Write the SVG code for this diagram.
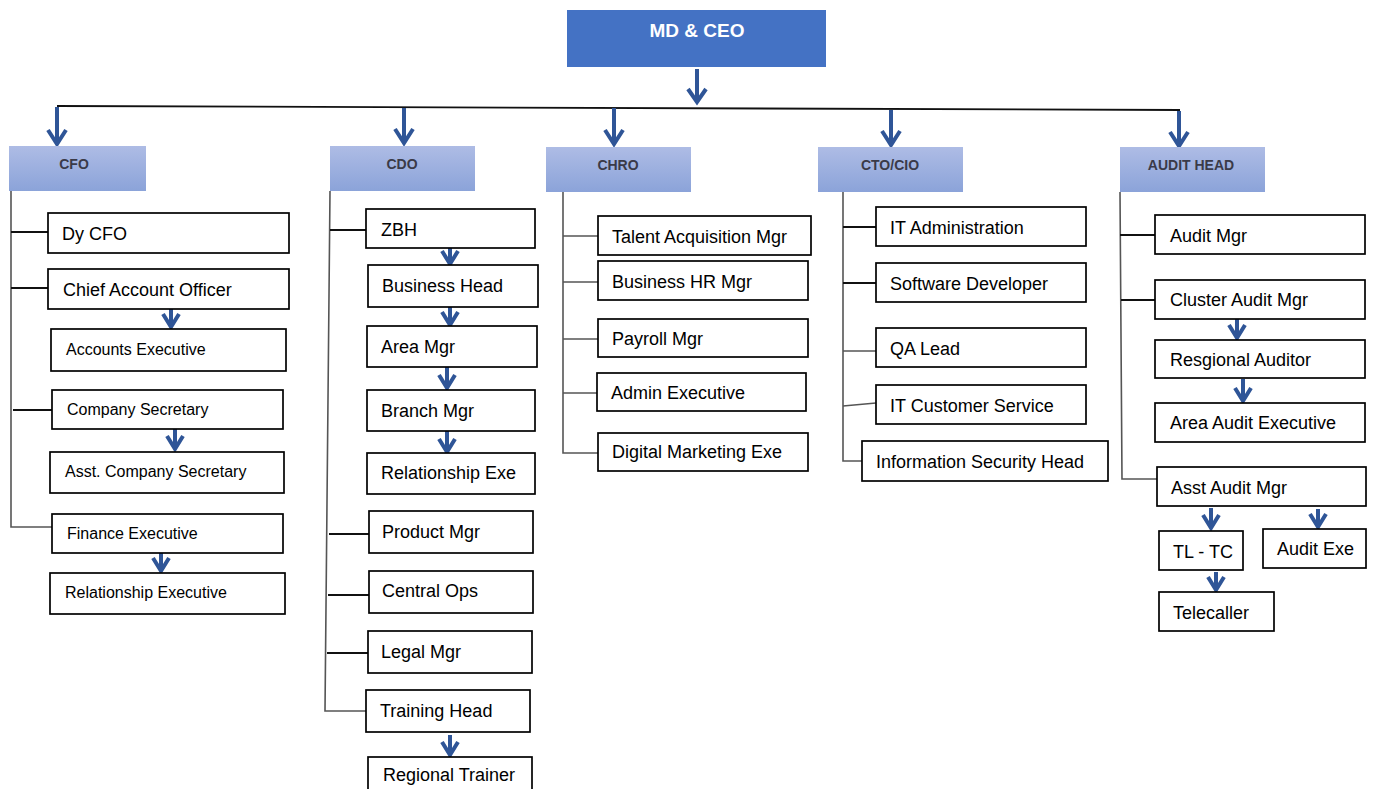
<svg xmlns="http://www.w3.org/2000/svg" width="1373" height="789" viewBox="0 0 1373 789">
<defs>
<linearGradient id="hg" x1="0" y1="0" x2="0" y2="1">
<stop offset="0" stop-color="#AEBCE5"/>
<stop offset="1" stop-color="#8BA3D9"/>
</linearGradient>
</defs>
<style>
.box{fill:#fff;stroke:#000;stroke-width:1.7}
.hdr{fill:url(#hg)}
.t{font-family:"Liberation Sans",Arial,sans-serif;font-size:18px;fill:#000}
.ts{font-family:"Liberation Sans",Arial,sans-serif;font-size:16px;fill:#000}
.ht{font-family:"Liberation Sans",Arial,sans-serif;font-size:14px;font-weight:bold;fill:#3a3a48;text-anchor:middle}
.ln{fill:none;stroke:#111;stroke-width:1.8}
.vl{fill:none;stroke:#555;stroke-width:1.6}
.ar{fill:none;stroke:#2F5597;stroke-width:4;stroke-linejoin:miter}
</style>
<rect width="1373" height="789" fill="#fff"/>

<g id="connectors">
<line class="ln" x1="57" y1="106" x2="1180" y2="110"/>
<path class="ar" d="M697 69V102M688 89L697 102L706 89"/>
<path class="ar" d="M57 107V144M48 130L57 144L66 130"/>
<path class="ar" d="M404 108V143M395 129L404 143L413 129"/>
<path class="ar" d="M614 108V144M605 130L614 144L623 130"/>
<path class="ar" d="M891 110V145M882 131L891 145L900 131"/>
<path class="ar" d="M1179 111V146M1170 132L1179 146L1188 132"/>
<!-- CFO -->
<polyline class="vl" points="11,191 11,527 52,527"/>
<line class="ln" x1="11" y1="232" x2="48" y2="232"/>
<line class="ln" x1="11" y1="288" x2="48" y2="288"/>
<line class="ln" x1="13" y1="410" x2="52" y2="410"/>
<path class="ar" d="M171 309V327M163 314L171 327L179 314"/>
<path class="ar" d="M175 429V449M167 436L175 449L183 436"/>
<path class="ar" d="M161 553V571M153 558L161 571L169 558"/>
<!-- CDO -->
<polyline class="vl" points="330,191 325,711 366,711"/>
<line class="ln" x1="330" y1="230" x2="366" y2="230"/>
<line class="ln" x1="329" y1="534" x2="369" y2="534"/>
<line class="ln" x1="328" y1="595" x2="369" y2="595"/>
<line class="ln" x1="327" y1="653" x2="368" y2="653"/>
<path class="ar" d="M450 248V264M442 251L450 264L458 251"/>
<path class="ar" d="M450 307V325M442 312L450 325L458 312"/>
<path class="ar" d="M447 367V388M439 375L447 388L455 375"/>
<path class="ar" d="M447 431V452M439 439L447 452L455 439"/>
<path class="ar" d="M450 735V755M442 742L450 755L458 742"/>
<!-- CHRO -->
<polyline class="vl" points="563,192 563,453 598,453"/>
<line class="vl" x1="563" y1="236" x2="598" y2="236"/>
<line class="vl" x1="563" y1="282" x2="598" y2="282"/>
<line class="vl" x1="563" y1="339" x2="598" y2="339"/>
<line class="vl" x1="563" y1="393" x2="597" y2="393"/>
<!-- CTO -->
<polyline class="vl" points="843,192 843,461 862,461"/>
<line class="ln" x1="843" y1="227" x2="876" y2="227"/>
<line class="ln" x1="843" y1="283" x2="876" y2="283"/>
<line class="vl" x1="843" y1="351" x2="876" y2="351"/>
<line class="vl" x1="843" y1="406" x2="876" y2="403"/>
<!-- Audit -->
<polyline class="vl" points="1120,192 1122,479 1157,479"/>
<line class="ln" x1="1120" y1="235" x2="1155" y2="235"/>
<line class="ln" x1="1121" y1="300" x2="1155" y2="300"/>
<path class="ar" d="M1237 319V338M1229 325L1237 338L1245 325"/>
<path class="ar" d="M1243 379V401M1235 388L1243 401L1251 388"/>
<path class="ar" d="M1211 508V528M1203 515L1211 528L1219 515"/>
<path class="ar" d="M1318 509V527M1310 514L1318 527L1326 514"/>
<path class="ar" d="M1216 572V590M1208 577L1216 590L1224 577"/>
</g>

<g id="md-ceo">
<rect x="567" y="10" width="259" height="57" fill="#4472C4"/>
<text x="697" y="37" font-family="Liberation Sans, Arial, sans-serif" font-size="19" font-weight="bold" fill="#fff" text-anchor="middle">MD &amp; CEO</text>
</g>

<g id="cfo"><rect class="hdr" x="9" y="146" width="137" height="45"/><text class="ht" x="74" y="169">CFO</text></g>
<g id="cdo"><rect class="hdr" x="330" y="146" width="145" height="45"/><text class="ht" x="402" y="169">CDO</text></g>
<g id="chro"><rect class="hdr" x="546" y="147" width="145" height="45"/><text class="ht" x="618" y="170">CHRO</text></g>
<g id="cto"><rect class="hdr" x="818" y="147" width="145" height="45"/><text class="ht" x="890" y="170">CTO/CIO</text></g>
<g id="audit-head"><rect class="hdr" x="1120" y="147" width="145" height="45"/><text class="ht" x="1191" y="170">AUDIT HEAD</text></g>

<g id="dy-cfo"><rect class="box" x="48" y="213" width="241" height="40"/><text class="t" x="62" y="240">Dy CFO</text></g>
<g id="chief-account-officer"><rect class="box" x="48" y="269" width="241" height="40"/><text class="t" x="63" y="296">Chief Account Officer</text></g>
<g id="accounts-executive"><rect class="box" x="51" y="329" width="235" height="42"/><text class="ts" x="66" y="355">Accounts Executive</text></g>
<g id="company-secretary"><rect class="box" x="52" y="390" width="231" height="39"/><text class="ts" x="67" y="415">Company Secretary</text></g>
<g id="asst-company-secretary"><rect class="box" x="50" y="452" width="234" height="41"/><text class="ts" x="65" y="477">Asst. Company Secretary</text></g>
<g id="finance-executive"><rect class="box" x="52" y="514" width="231" height="39"/><text class="ts" x="67" y="539">Finance Executive</text></g>
<g id="relationship-executive"><rect class="box" x="50" y="573" width="235" height="41"/><text class="ts" x="65" y="598">Relationship Executive</text></g>

<g id="zbh"><rect class="box" x="366" y="209" width="169" height="39"/><text class="t" x="381" y="236">ZBH</text></g>
<g id="business-head"><rect class="box" x="368" y="265" width="170" height="42"/><text class="t" x="382" y="292">Business Head</text></g>
<g id="area-mgr"><rect class="box" x="367" y="326" width="170" height="41"/><text class="t" x="381" y="353">Area Mgr</text></g>
<g id="branch-mgr"><rect class="box" x="367" y="390" width="168" height="41"/><text class="t" x="381" y="417">Branch Mgr</text></g>
<g id="relationship-exe"><rect class="box" x="367" y="453" width="168" height="41"/><text class="t" x="381" y="479">Relationship Exe</text></g>
<g id="product-mgr"><rect class="box" x="369" y="511" width="164" height="42"/><text class="t" x="382" y="538">Product Mgr</text></g>
<g id="central-ops"><rect class="box" x="369" y="571" width="164" height="42"/><text class="t" x="382" y="597">Central Ops</text></g>
<g id="legal-mgr"><rect class="box" x="368" y="631" width="164" height="42"/><text class="t" x="381" y="658">Legal Mgr</text></g>
<g id="training-head"><rect class="box" x="366" y="690" width="164" height="42"/><text class="t" x="380" y="717">Training Head</text></g>
<g id="regional-trainer"><rect class="box" x="368" y="757" width="164" height="40"/><text class="t" x="383" y="781">Regional Trainer</text></g>

<g id="talent-acquisition-mgr"><rect class="box" x="598" y="216" width="213" height="39"/><text class="t" x="612" y="243">Talent Acquisition Mgr</text></g>
<g id="business-hr-mgr"><rect class="box" x="598" y="261" width="210" height="39"/><text class="t" x="612" y="288">Business HR Mgr</text></g>
<g id="payroll-mgr"><rect class="box" x="598" y="319" width="210" height="38"/><text class="t" x="612" y="345">Payroll Mgr</text></g>
<g id="admin-executive"><rect class="box" x="597" y="373" width="209" height="38"/><text class="t" x="611" y="399">Admin Executive</text></g>
<g id="digital-marketing-exe"><rect class="box" x="598" y="433" width="210" height="38"/><text class="t" x="612" y="458">Digital Marketing Exe</text></g>

<g id="it-administration"><rect class="box" x="876" y="207" width="210" height="39"/><text class="t" x="890" y="234">IT Administration</text></g>
<g id="software-developer"><rect class="box" x="876" y="263" width="210" height="39"/><text class="t" x="890" y="290">Software Developer</text></g>
<g id="qa-lead"><rect class="box" x="876" y="328" width="210" height="39"/><text class="t" x="890" y="355">QA Lead</text></g>
<g id="it-customer-service"><rect class="box" x="876" y="385" width="210" height="39"/><text class="t" x="890" y="412">IT Customer Service</text></g>
<g id="information-security-head"><rect class="box" x="862" y="441" width="246" height="40"/><text class="t" x="876" y="468">Information Security Head</text></g>

<g id="audit-mgr"><rect class="box" x="1155" y="215" width="210" height="39"/><text class="t" x="1170" y="242">Audit Mgr</text></g>
<g id="cluster-audit-mgr"><rect class="box" x="1155" y="280" width="210" height="39"/><text class="t" x="1170" y="306">Cluster Audit Mgr</text></g>
<g id="resgional-auditor"><rect class="box" x="1155" y="340" width="210" height="38"/><text class="t" x="1170" y="366">Resgional Auditor</text></g>
<g id="area-audit-executive"><rect class="box" x="1155" y="403" width="210" height="39"/><text class="t" x="1170" y="429">Area Audit Executive</text></g>
<g id="asst-audit-mgr"><rect class="box" x="1157" y="467" width="209" height="39"/><text class="t" x="1171" y="494">Asst Audit Mgr</text></g>
<g id="tl-tc"><rect class="box" x="1159" y="531" width="84" height="39"/><text class="t" x="1173" y="558">TL - TC</text></g>
<g id="audit-exe"><rect class="box" x="1263" y="529" width="103" height="39"/><text class="t" x="1277" y="555">Audit Exe</text></g>
<g id="telecaller"><rect class="box" x="1159" y="592" width="115" height="39"/><text class="t" x="1173" y="619">Telecaller</text></g>
</svg>
